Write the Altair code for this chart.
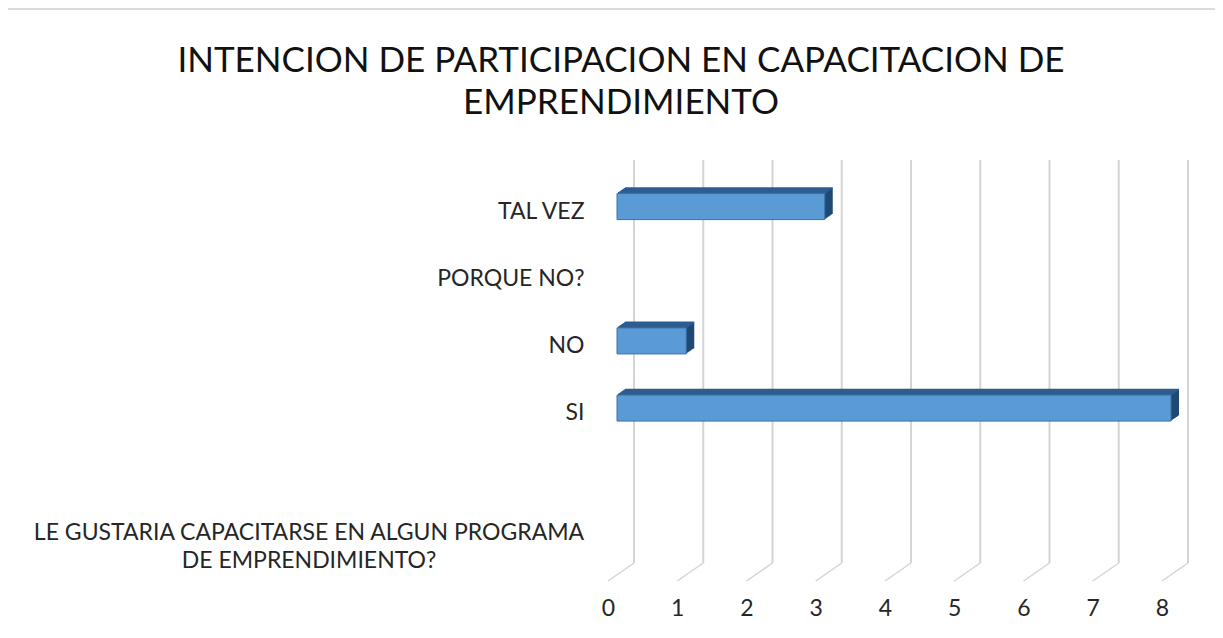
import altair as alt
import pandas as pd

# ---- data ----
categories = ["TAL VEZ", "PORQUE NO?", "NO", "SI",
              "LE GUSTARIA CAPACITARSE EN ALGUN PROGRAMA\nDE EMPRENDIMIENTO?"]
values = [3, 0, 1, 8, 0]
spacer = " "
tick_values = [0, 1, 2, 3, 4, 5, 6, 7, 8]
title_lines = ["INTENCION DE PARTICIPACION EN CAPACITACION DE", "EMPRENDIMIENTO"]

FONT = "Lato, sans-serif"
W, H = 554, 403
BACK_DX, BACK_DY = 26, -18
FACE_DX, FACE_DY = 9, -5
DEPTH = 8
BAR_H = 26
FRONT = "#5b9bd5"
FRONT_EDGE = "#3c72a8"
TOP = "#2c5d90"
SIDE = "#1f4a74"
GRID = "#d4d4d4"
LABEL_SIZE = 23
LABEL_COLOR = "#262626"

df = pd.DataFrame({"cat": categories, "value": values})
bars_df = df[df["value"] > 0]
ticks_df = pd.DataFrame({"t": tick_values})
domain = categories[:4] + [spacer] + [categories[4]]

yscale = alt.Scale(domain=domain, paddingInner=0, paddingOuter=0)
yaxis = alt.Axis(title=None, domain=False, ticks=False, grid=False,
                 labelAlign="right", labelBaseline="middle", labelPadding=24,
                 labelFont=FONT, labelFontSize=LABEL_SIZE, labelColor=LABEL_COLOR,
                 labelExpr="length(datum.value) > 20 ? '' : datum.value")
xscale = alt.Scale(domain=[0, 8], nice=False, zero=True)
xaxis = alt.Axis(title=None, domain=False, ticks=False, grid=False,
                 values=tick_values, labelBaseline="middle", labelPadding=27,
                 labelFlush=False,
                 labelFont=FONT, labelFontSize=LABEL_SIZE, labelColor=LABEL_COLOR)

def Y():
    return alt.Y("cat:N", scale=yscale, axis=yaxis)

def X(f):
    return alt.X(f, scale=xscale, axis=xaxis)

layers = []

# chart border
layers.append(
    alt.Chart(pd.DataFrame({"a": [0]})).mark_rect(
        filled=False, stroke="#d0d0d0", strokeWidth=1.5
    ).encode(x=alt.value(-601), x2=alt.value(700),
             y=alt.value(-169), y2=alt.value(600))
)

# back-wall gridlines
layers.append(
    alt.Chart(ticks_df).mark_rule(color=GRID, strokeWidth=2, xOffset=BACK_DX)
    .encode(x=X("t:Q"), y=alt.value(BACK_DY), y2=alt.value(H + BACK_DY))
)
# floor diagonals
layers.append(
    alt.Chart(ticks_df).mark_rule(color=GRID, strokeWidth=1.5, x2Offset=BACK_DX)
    .encode(x=X("t:Q"), x2=alt.X2("t:Q"), y=alt.value(H), y2=alt.value(H + BACK_DY))
)

# extruded depth (side faces)
for k in range(DEPTH, 0, -1):
    dx = FACE_DX + k
    dy = FACE_DY - 0.69 * k
    layers.append(
        alt.Chart(bars_df).mark_bar(size=BAR_H, color=SIDE, xOffset=dx, x2Offset=dx,
                                    yOffset=dy)
        .encode(x=X("value:Q"), y=Y())
    )
# top faces
for k in range(DEPTH, 0, -1):
    dx = FACE_DX + k
    dy = FACE_DY - 0.69 * k - BAR_H / 2
    layers.append(
        alt.Chart(bars_df).mark_bar(size=1.6, color=TOP, xOffset=dx, x2Offset=dx,
                                    yOffset=dy)
        .encode(x=X("value:Q"), y=Y())
    )
# front faces
layers.append(
    alt.Chart(bars_df).mark_bar(size=BAR_H, color=FRONT, stroke=FRONT_EDGE,
                                strokeWidth=1, xOffset=FACE_DX, x2Offset=FACE_DX,
                                yOffset=FACE_DY)
    .encode(x=X("value:Q"), y=Y())
)

# long category label (two centred lines)
layers.append(
    alt.Chart(df[df["cat"] == categories[4]]).mark_text(
        align="center", baseline="middle", lineBreak="\n", lineHeight=28,
        font=FONT, fontSize=LABEL_SIZE, color=LABEL_COLOR, dy=-14
    ).encode(x=alt.value(-299), y=Y(), text="cat:N")
)

# title
layers.append(
    alt.Chart(pd.DataFrame({"title": ["\n".join(title_lines)]})).mark_text(
        align="center", baseline="alphabetic", lineBreak="\n", lineHeight=42,
        font=FONT, fontSize=35, color="#111111"
    ).encode(x=alt.value(13), y=alt.value(-106), text="title:N")
)

chart = alt.layer(*layers).properties(
    width=W, height=H,
    autosize=alt.AutoSizeParams(type="none"),
    padding={"left": 600, "top": 170, "right": 53, "bottom": 49},
    background="white",
).configure_view(stroke="transparent")

chart.save("out.html", embed_options={"renderer": "svg", "actions": False})
